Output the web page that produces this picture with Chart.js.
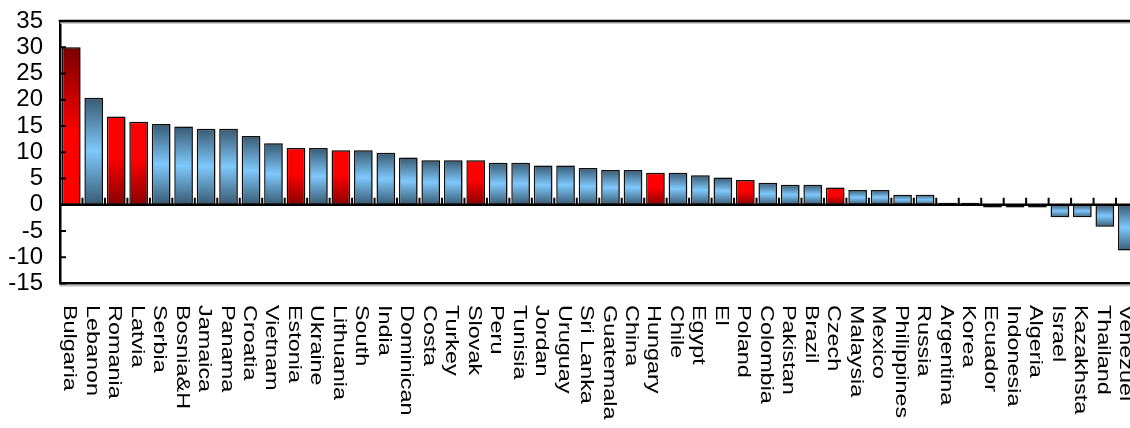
<!DOCTYPE html>
<html><head><meta charset="utf-8">
<style>html,body{margin:0;padding:0;background:#fff;overflow:hidden;width:1130px;height:428px}</style>
<script src="https://cdn.jsdelivr.net/npm/chart.js@4.4.1/dist/chart.umd.min.js"></script>
</head><body>
<canvas id="c" width="1140" height="428" style="display:block;width:1140px;height:428px"></canvas>
<script>
const categories = ["Bulgaria","Lebanon","Romania","Latvia","Serbia","Bosnia&H","Jamaica","Panama","Croatia","Vietnam","Estonia","Ukraine","Lithuania","South","India","Dominican","Costa","Turkey","Slovak","Peru","Tunisia","Jordan","Uruguay","Sri Lanka","Guatemala","China","Hungary","Chile","Egypt","El","Poland","Colombia","Pakistan","Brazil","Czech","Malaysia","Mexico","Philippines","Russia","Argentina","Korea","Ecuador","Indonesia","Algeria","Israel","Kazakhsta","Thailand","Venezuel"];
const values = [30.0,20.4,16.8,15.8,15.4,14.9,14.5,14.5,13.1,11.7,10.8,10.8,10.4,10.4,9.9,9.0,8.5,8.5,8.5,8.0,8.0,7.5,7.5,7.0,6.6,6.6,6.1,6.1,5.6,5.2,4.7,4.2,3.8,3.8,3.3,2.8,2.8,1.9,1.9,0.4,0.4,-0.5,-0.5,-0.5,-2.4,-2.4,-4.2,-8.7];
const highlighted = ["Bulgaria","Romania","Latvia","Estonia","Lithuania","Slovak","Hungary","Poland","Czech"];
const yMin = -15, yMax = 35, yStep = 5;

function barFill(context){
  const chart = context.chart;
  if (!chart.chartArea || !chart.scales.y) return '#7ec8fa';
  const i = context.dataIndex;
  const v = values[i];
  const y = chart.scales.y;
  const top = y.getPixelForValue(Math.max(v,0));
  let bot = y.getPixelForValue(Math.min(v,0));
  if (Math.abs(bot-top) < 1) bot = top + 1;
  const g = chart.ctx.createLinearGradient(0, top, 0, bot);
  const name = categories[i];
  if (highlighted.includes(name)) {
    if (i === 0) {
      g.addColorStop(0, '#7a0000'); g.addColorStop(0.55, '#ff0000'); g.addColorStop(1, '#ff0000');
    } else {
      g.addColorStop(0, '#ff0000'); g.addColorStop(0.45, '#ff0000'); g.addColorStop(1, '#8a0000');
    }
  } else {
    g.addColorStop(0, '#385a72'); g.addColorStop(0.5, '#7ec8fc'); g.addColorStop(1, '#385a72');
  }
  return g;
}

const decor = {
  id: 'decor',
  beforeDatasetsDraw(chart){
    const ctx = chart.ctx;
    ctx.save();
    ctx.shadowColor = 'rgba(0,0,0,0.35)';
    ctx.shadowBlur = 2;
    ctx.shadowOffsetX = 2;
    ctx.shadowOffsetY = 0;
  },
  afterDatasetsDraw(chart){
    const ctx = chart.ctx;
    ctx.restore();
    const {chartArea:a, scales:{x, y}} = chart;
    const y0 = y.getPixelForValue(0);
    ctx.save();
    ctx.strokeStyle = '#000'; ctx.lineWidth = 2.5;
    ctx.beginPath(); ctx.moveTo(a.left, y0); ctx.lineTo(a.right, y0); ctx.stroke();
    ctx.lineWidth = 2;
    for (let i = 1; i < categories.length; i++) {
      const bx = (x.getPixelForValue(i-1) + x.getPixelForValue(i)) / 2;
      ctx.beginPath(); ctx.moveTo(bx, y0); ctx.lineTo(bx, y0 - 7); ctx.stroke();
    }
    for (let v = yMin; v <= yMax; v += yStep) {
      const py = y.getPixelForValue(v);
      ctx.beginPath(); ctx.moveTo(a.left, py); ctx.lineTo(a.left + 6, py); ctx.stroke();
    }
    ctx.strokeStyle = '#bdbdbd'; ctx.lineWidth = 1.5;
    ctx.beginPath(); ctx.moveTo(a.left, a.top + 2); ctx.lineTo(a.right, a.top + 2); ctx.stroke();
    ctx.beginPath(); ctx.moveTo(a.left, a.bottom + 2.2); ctx.lineTo(a.right, a.bottom + 2.2); ctx.stroke();
    ctx.strokeStyle = '#000'; ctx.lineWidth = 2.5;
    ctx.beginPath(); ctx.moveTo(a.left - 1.25, a.top); ctx.lineTo(a.right, a.top); ctx.stroke();
    ctx.restore();
  },
  afterDraw(chart){
    const {ctx, scales:{x}} = chart;
    ctx.save();
    ctx.font = "18px 'Liberation Sans', Arial, sans-serif";
    ctx.fillStyle = '#000';
    ctx.textAlign = 'left';
    ctx.textBaseline = 'middle';
    categories.forEach((c, i) => {
      const px = x.getPixelForValue(i) - 2;
      ctx.save();
      ctx.translate(px, 305);
      ctx.rotate(Math.PI / 2);
      ctx.scale(1.3, 1);
      ctx.fillText(c, 0, 0);
      ctx.restore();
    });
    ctx.restore();
  }
};

new Chart(document.getElementById('c'), {
  type: 'bar',
  data: {
    labels: categories,
    datasets: [{
      data: values,
      backgroundColor: barFill,
      borderColor: '#111',
      borderWidth: 1.5,
      borderSkipped: false,
      barPercentage: 0.83,
      categoryPercentage: 1.0
    }]
  },
  options: {
    responsive: false,
    animation: false,
    devicePixelRatio: 1,
    layout: { padding: { top: 21, right: 1.5, left: 0, bottom: 0 } },
    plugins: { legend: { display: false }, tooltip: { enabled: false } },
    scales: {
      x: {
        grid: { display: false, drawTicks: false },
        border: { display: true, color: '#000', width: 2.5 },
        ticks: { display: false },
        afterFit(s){ s.height = 144.5; s.paddingLeft = 0; s.paddingRight = 0; }
      },
      y: {
        min: yMin, max: yMax,
        grid: { display: false, drawTicks: false },
        border: { display: true, color: '#000', width: 2.5 },
        ticks: {
          stepSize: yStep,
          autoSkip: false,
          color: '#000',
          padding: 17,
          font: { family: "'Liberation Sans Narrow', 'Arial Narrow', 'Liberation Sans', Arial, sans-serif", size: 24 }
        },
        afterFit(s){ s.width = 60; s.paddingTop = 0; s.paddingBottom = 0; }
      }
    }
  },
  plugins: [decor]
});
</script>
</body></html>
